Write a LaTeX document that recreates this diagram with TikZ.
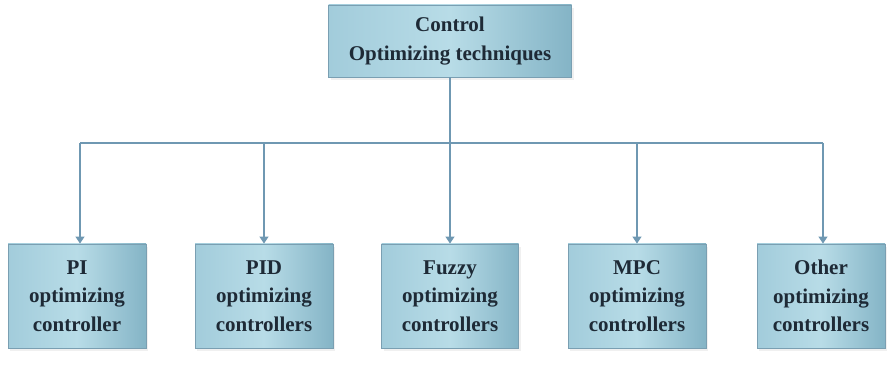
\documentclass[tikz,border=0pt]{standalone}
\usepackage{fontspec}
\setmainfont{Liberation Serif}
\usetikzlibrary{arrows.meta,shadows}
\definecolor{boxlight}{HTML}{B8DCE7}
\definecolor{boxmid}{HTML}{A2CCDB}
\definecolor{boxdark}{HTML}{84B4C6}
\definecolor{boxedge}{HTML}{7A9FB2}
\definecolor{linkcol}{HTML}{6F98B2}
\definecolor{textcol}{HTML}{1E2A36}
\begin{document}
\begin{tikzpicture}[x=1pt,y=1pt,
  techbox/.style={draw=boxedge, line width=0.8pt,
    left color=boxmid, right color=boxdark, middle color=boxlight,
    drop shadow={opacity=0.12, shadow xshift=2pt, shadow yshift=-3pt},
    align=center, font=\bfseries\fontsize{21}{28.5}\selectfont, text=textcol,
    inner sep=0pt},
  link/.style={draw=linkcol, line width=1.1pt},
  arr/.style={link, -{Triangle[width=9pt,length=7pt]}}]
  \useasboundingbox (0,0) rectangle (890,364);
  % top node
  \node[techbox, minimum width=243pt, minimum height=72pt] (top) at (450,323)
    {Control\\Optimizing techniques};
  % controller classes
  \node[techbox, minimum width=138pt, minimum height=104pt] (pi)   at (77,68)  {PI\\optimizing\\controller};
  \node[techbox, minimum width=138pt, minimum height=104pt] (pid)  at (264,68) {PID\\optimizing\\controllers};
  \node[techbox, minimum width=137pt, minimum height=104pt] (fuz)  at (450,68) {Fuzzy\\optimizing\\controllers};
  \node[techbox, minimum width=138pt, minimum height=104pt] (mpc)  at (637,68) {MPC\\optimizing\\controllers};
  \node[techbox, minimum width=128pt, minimum height=104pt] (oth)  at (821,68) {Other\\optimizing\\controllers};
  % branch bus
  \coordinate (bus) at (450,221);
  \coordinate (busL) at (80,221);
  \coordinate (busR) at (823,221);
  \draw[link] (top.south) -- (bus);
  \draw[link] (busL) -- (busR);
  \draw[arr] (busL) -- (busL |- pi.north);
  \draw[arr] (pid.north |- bus) -- (pid.north);
  \draw[arr] (bus) -- (fuz.north);
  \draw[arr] (mpc.north |- bus) -- (mpc.north);
  \draw[arr] (busR) -- (busR |- oth.north);
\end{tikzpicture}
\end{document}
